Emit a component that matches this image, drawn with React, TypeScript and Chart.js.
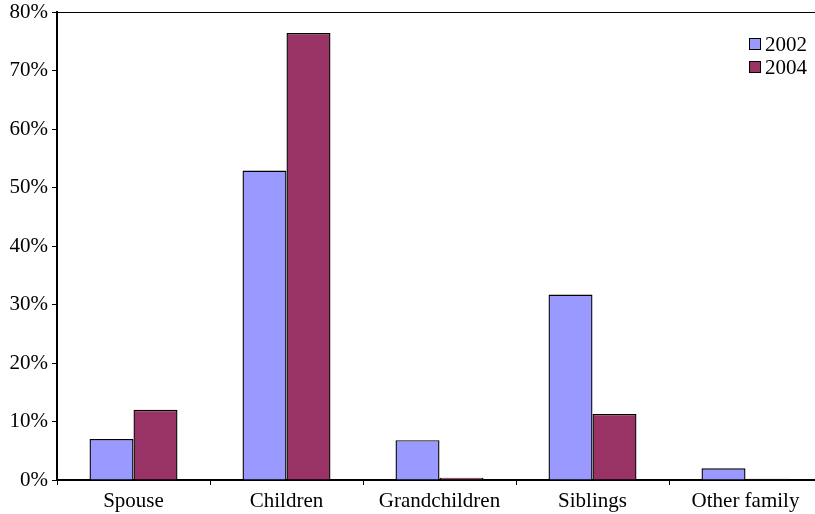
import React, { useEffect, useRef } from "react";
import { Chart, registerables } from "chart.js";

Chart.register(...registerables);

const categories = ["Spouse", "Children", "Grandchildren", "Siblings", "Other family"];
const seriesNames = ["2002", "2004"];
const values2002 = [7.0, 52.9, 6.8, 31.7, 2.0];
const values2004 = [12.0, 76.4, 0.4, 11.3, 0.2];
const seriesColors = ["#9999FF", "#993366"];
const yTicks = [0, 10, 20, 30, 40, 50, 60, 70, 80];

const FONT = '"Liberation Serif", "Times New Roman", serif';

// Legend drawn inside the plot area, top-right corner
const insideLegend = {
  id: "insideLegend",
  afterDraw(chart: any) {
    const ctx = chart.ctx;
    ctx.save();
    ctx.font = `21px ${FONT}`;
    ctx.textBaseline = "middle";
    ctx.textAlign = "left";
    chart.data.datasets.forEach((ds: any, i: number) => {
      const y = 44 + i * 23;
      ctx.fillStyle = ds.backgroundColor;
      ctx.fillRect(749.5, y - 5.5, 11, 11);
      ctx.strokeStyle = "#000";
      ctx.lineWidth = 1;
      ctx.strokeRect(749.5, y - 5.5, 11, 11);
      ctx.fillStyle = "#000";
      ctx.fillText(ds.label, 765, y + 1);
    });
    ctx.restore();
  },
};

export default function App() {
  const ref = useRef<HTMLCanvasElement | null>(null);

  useEffect(() => {
    if (!ref.current) return;
    const chart = new Chart(ref.current, {
      type: "bar",
      data: {
        labels: categories,
        datasets: [
          {
            label: seriesNames[0],
            data: values2002,
            backgroundColor: seriesColors[0],
            borderColor: "#000",
            borderWidth: 1.4,
          },
          {
            label: seriesNames[1],
            data: values2004,
            backgroundColor: seriesColors[1],
            borderColor: "#000",
            borderWidth: 1.4,
          },
        ],
      },
      options: {
        responsive: false,
        animation: false,
        devicePixelRatio: 1,
        layout: { padding: { top: 12, left: 0, right: 8, bottom: 0 } },
        datasets: {
          bar: { categoryPercentage: 0.575, barPercentage: 1 },
        },
        plugins: {
          legend: { display: false },
          tooltip: { enabled: false },
        },
        scales: {
          x: {
            grid: {
              offset: true,
              color: "rgba(0,0,0,0)",
              tickColor: "#000",
              tickLength: 5,
              tickWidth: 1,
            },
            border: { color: "#000", width: 2 },
            ticks: {
              color: "#000",
              font: { family: FONT, size: 21 },
              padding: 4,
              maxRotation: 0,
            },
            afterFit(scale: any) {
              scale.height = 34;
              scale.paddingLeft = 0;
              scale.paddingRight = 0;
            },
          },
          y: {
            min: 0,
            max: 80,
            afterBuildTicks(scale: any) {
              scale.ticks = yTicks.map((v) => ({ value: v }));
            },
            grid: {
              color: (c: any) => (c.tick && c.tick.value === 80 ? "#000" : "rgba(0,0,0,0)"),
              tickColor: "#000",
              tickLength: 5,
              lineWidth: 1,
            },
            border: { color: "#000", width: 2 },
            ticks: {
              color: "#000",
              font: { family: FONT, size: 21 },
              padding: 4,
              callback: (v: any) => `${v}%`,
            },
            afterFit(scale: any) {
              scale.width = 57;
              scale.paddingTop = 0;
              scale.paddingBottom = 0;
            },
          },
        },
      },
      plugins: [insideLegend],
    });
    return () => chart.destroy();
  }, []);

  return (
    <div
      style={{
        position: "fixed",
        left: 0,
        top: 0,
        width: 815,
        height: 514,
        overflow: "hidden",
        background: "#fff",
      }}
    >
      <canvas ref={ref} width={830} height={514} style={{ display: "block" }} />
    </div>
  );
}
